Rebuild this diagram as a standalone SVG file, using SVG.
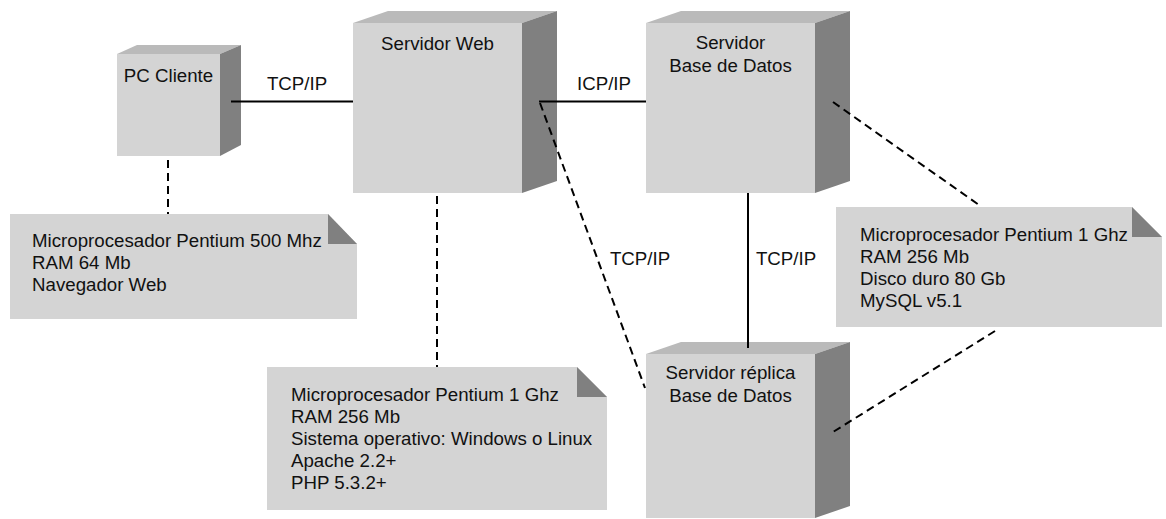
<svg xmlns="http://www.w3.org/2000/svg" width="1166" height="519" viewBox="0 0 1166 519">
<style>
.front{fill:#d4d4d4}
.side{fill:#808080}
.top{fill:#bababa}
.note{fill:#d4d4d4}
.fold{fill:#808080}
text{font-family:"Liberation Sans",Arial,sans-serif;font-size:18.7px;fill:#111}
.c{text-anchor:middle}
.solid{stroke:#000;stroke-width:2;fill:none}
.dash{stroke:#000;stroke-width:2;fill:none;stroke-dasharray:8 5}
</style>
<rect width="1166" height="519" fill="#fff"/>
<g id="pc-cliente">
<polygon class="top" points="117,54 137,45 241,45 220,54"/>
<polygon class="side" points="220,54 241,45 241,145 220,156"/>
<rect class="front" x="117" y="54" width="103" height="102"/>
<text class="c" x="168.5" y="82">PC Cliente</text>
</g>
<g id="servidor-web">
<polygon class="top" points="353,23 388,11 557,11 522,23"/>
<polygon class="side" points="522,23 557,11 557,181 522,193"/>
<rect class="front" x="353" y="23" width="169" height="170"/>
<text class="c" x="437.5" y="50">Servidor Web</text>
</g>
<g id="servidor-bd">
<polygon class="top" points="646,23 681,11 850,11 815,23"/>
<polygon class="side" points="815,23 850,11 850,181 815,193"/>
<rect class="front" x="646" y="23" width="169" height="170"/>
<text class="c" x="730.5" y="49">Servidor</text>
<text class="c" x="730.5" y="72">Base de Datos</text>
</g>
<g id="servidor-replica">
<polygon class="top" points="646,354 681,342 850,342 815,354"/>
<polygon class="side" points="815,354 850,342 850,506 815,518"/>
<rect class="front" x="646" y="354" width="169" height="164"/>
<text class="c" x="730.5" y="379">Servidor réplica</text>
<text class="c" x="730.5" y="402">Base de Datos</text>
</g>
<g id="nota-pc">
<polygon class="note" points="10,214 328,214 357,244 357,319 10,319"/>
<polygon class="fold" points="328,214 357,244 328,244"/>
<text x="32" y="247">Microprocesador Pentium 500 Mhz</text>
<text x="32" y="269">RAM 64 Mb</text>
<text x="32" y="291">Navegador Web</text>
</g>
<g id="nota-web">
<polygon class="note" points="267,367 577,367 607,397 607,510 267,510"/>
<polygon class="fold" points="577,367 607,397 577,397"/>
<text x="291" y="401">Microprocesador Pentium 1 Ghz</text>
<text x="291" y="423">RAM 256 Mb</text>
<text x="291" y="445">Sistema operativo: Windows o Linux</text>
<text x="291" y="467">Apache 2.2+</text>
<text x="291" y="489">PHP 5.3.2+</text>
</g>
<g id="nota-bd">
<polygon class="note" points="836,207 1132,207 1162,237 1162,327 836,327"/>
<polygon class="fold" points="1132,207 1162,237 1132,237"/>
<text x="860" y="241">Microprocesador Pentium 1 Ghz</text>
<text x="860" y="263">RAM 256 Mb</text>
<text x="860" y="285">Disco duro 80 Gb</text>
<text x="860" y="307">MySQL v5.1</text>
</g>
<g id="connectors">
<line class="solid" x1="231" y1="101.5" x2="353" y2="101.5"/>
<line class="solid" x1="539" y1="101.5" x2="646" y2="101.5"/>
<line class="solid" x1="748" y1="193" x2="748" y2="348"/>
<line class="dash" x1="540" y1="103" x2="645" y2="388"/>
<line class="dash" x1="168" y1="160" x2="168" y2="214"/>
<line class="dash" x1="437" y1="196" x2="437" y2="367"/>
<line class="dash" x1="833" y1="102" x2="979" y2="205"/>
<line class="dash" x1="995" y1="331" x2="833" y2="432"/>
<text class="c" x="297" y="90">TCP/IP</text>
<text class="c" x="604" y="90">ICP/IP</text>
<text class="c" x="640" y="265">TCP/IP</text>
<text class="c" x="786" y="265">TCP/IP</text>
</g>
</svg>
